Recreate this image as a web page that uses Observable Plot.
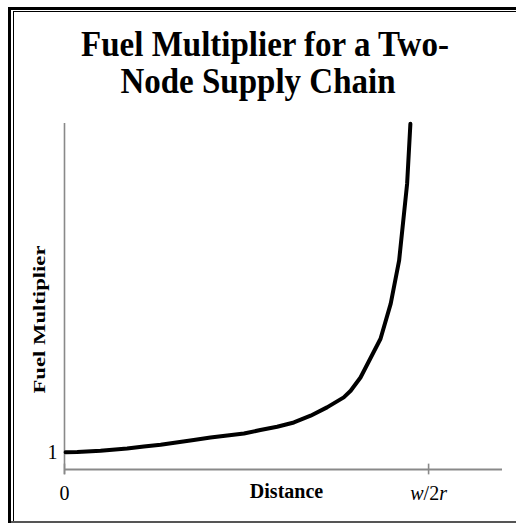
<!DOCTYPE html>
<html>
<head>
<meta charset="utf-8">
<script src="https://cdn.jsdelivr.net/npm/d3@7"></script>
<script src="https://cdn.jsdelivr.net/npm/@observablehq/plot@0.6"></script>
<style>
  html, body { margin: 0; padding: 0; background: #fff; }
  #wrap { position: relative; width: 516px; height: 523px; overflow: hidden; background: #fff; }
  .b { position: absolute; background: #000; }
  #title { position: absolute; left: 0; top: 26px; width: 516px; font-family: "Liberation Serif", "Times New Roman", serif;
           font-weight: bold; font-size: 33px; line-height: 33.6px; color: #000; text-align: center;
           transform: scaleY(1.1); transform-origin: 0 0; }
  #title div { white-space: nowrap; }
  #chart { position: absolute; left: 0; top: 100px; }
</style>
</head>
<body>
<div id="wrap">
  <div class="b" style="left:8px;top:7px;width:3px;height:516px;"></div>
  <div class="b" style="left:8px;top:7px;width:508px;height:2.5px;"></div>
  <div class="b" style="left:12.5px;top:10.5px;width:1px;height:512px;"></div>
  <div class="b" style="left:12.5px;top:10.5px;width:504px;height:1px;"></div>
  <div class="b" style="left:11px;top:521px;width:505px;height:2px;background:#555;"></div>
  <div id="title">
    <div style="padding-left:14px;">Fuel Multiplier for a Two-</div>
    <div>Node Supply Chain</div>
  </div>
  <div id="chart"></div>
</div>
<script>
// Data (distance as a fraction of w/2r)
const distance   = [0.003, 0.035, 0.099, 0.172, 0.218, 0.264, 0.355, 0.401, 0.493, 0.538, 0.584, 0.630, 0.676, 0.721, 0.767, 0.786, 0.813, 0.868, 0.896, 0.919, 0.941, 0.950];
const multiplier = [1.00, 1.01, 1.08, 1.21, 1.33, 1.43, 1.70, 1.85, 2.08, 2.28, 2.47, 2.72, 3.11, 3.59, 4.17, 4.55, 5.32, 7.56, 9.59, 12.07, 16.51, 19.98];

const xTicks = [0, 1];
const xTickLabels = ["0", "w/2r"];
const yTicks = [1];
const yTickLabels = ["1"];
const xLabel = "Distance";
const yLabel = "Fuel Multiplier";

const rows = distance.map((d, i) => ({distance: d, multiplier: multiplier[i]}));

const serif = "Liberation Serif, Times New Roman, serif";
const axisGray = "#898989";

const chart = Plot.plot({
  width: 516,
  height: 423,
  marginLeft: 64,
  marginRight: 14,
  marginTop: 23,
  marginBottom: 54,
  style: {fontFamily: serif, background: "transparent", overflow: "visible"},
  x: {domain: [0, 1.203]},
  y: {domain: [0, 20]},
  marks: [
    Plot.ruleX([0], {y1: -0.31, y2: 20, stroke: axisGray, strokeWidth: 1.6}),
    Plot.ruleY([0], {x1: 0, x2: 1.203, stroke: axisGray, strokeWidth: 1.8}),
    Plot.ruleX(xTicks, {y1: -0.31, y2: 0.31, stroke: axisGray, strokeWidth: 1.6}),
    Plot.axisX(xTicks, {tickSize: 0, tickPadding: 16, fontSize: 20, label: null, fill: "#000",
      tickFormat: d => xTickLabels[xTicks.indexOf(d)]}),
    Plot.axisY(yTicks, {tickSize: 0, tickPadding: 7, fontSize: 20, label: null, fill: "#000",
      tickFormat: d => yTickLabels[yTicks.indexOf(d)]}),
    Plot.line(rows, {x: "distance", y: "multiplier", stroke: "#000", strokeWidth: 4, strokeLinejoin: "round", strokeLinecap: "round"}),
    Plot.text([xLabel], {frameAnchor: "bottom", dx: 3, dy: 28.6, fontSize: 20, fontWeight: "bold", fill: "#000"}),
    Plot.text([yLabel], {frameAnchor: "left", rotate: -90, textAnchor: "start", dx: -25, dy: 97, fontSize: 17, fontWeight: "bold", fill: "#000"})
  ]
});

document.getElementById("chart").appendChild(chart);

// styling touches: italic variables in w/2r, vertically stretched y-axis title
chart.querySelectorAll("text").forEach(t => {
  if (t.textContent === "w/2r") {
    const ns = "http://www.w3.org/2000/svg";
    const target = t.querySelector("tspan") || t;
    target.textContent = "";
    const parts = [["w", "italic"], ["/2", "normal"], ["r", "italic"]];
    parts.forEach(([s, st]) => {
      const sp = document.createElementNS(ns, "tspan");
      sp.setAttribute("font-style", st);
      sp.textContent = s;
      target.appendChild(sp);
    });
  }
  if (t.textContent === yLabel) {
    t.setAttribute("textLength", "148");
    t.setAttribute("lengthAdjust", "spacingAndGlyphs");
  }
});
</script>
</body>
</html>
